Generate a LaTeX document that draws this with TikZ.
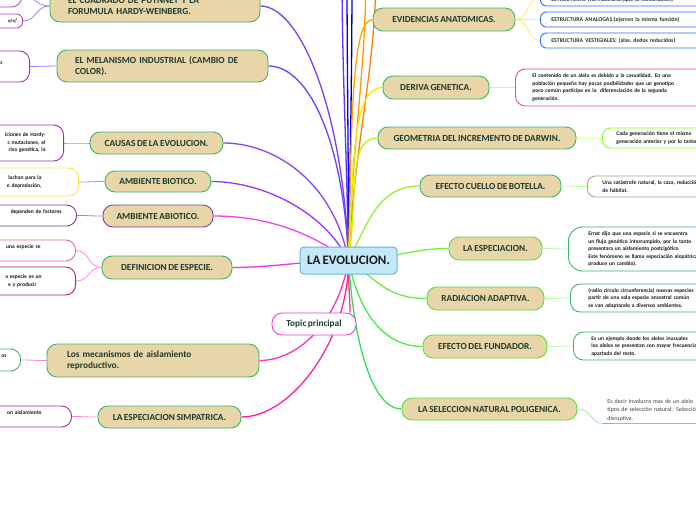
\documentclass[tikz,border=0pt]{standalone}
\usepackage{fontspec}
\setmainfont{Carlito}[WordSpace=0.75]
\pgfdeclarelayer{bg}
\pgfsetlayers{bg,main}
\definecolor{tanfill}{HTML}{E8D5A8}
\definecolor{mgreen}{HTML}{3DB36B}
\definecolor{lgreen}{HTML}{55DD44}
\definecolor{ntext}{HTML}{1E3B2E}
\definecolor{ltext}{HTML}{1A1A1A}
\definecolor{cfill}{HTML}{C5E8F8}
\definecolor{cborder}{HTML}{5BB8E8}
\definecolor{abborder}{HTML}{7F3F98}
\definecolor{topicb}{HTML}{E83CC8}
\definecolor{lfA}{HTML}{B548C6}
\definecolor{lfB}{HTML}{8E3FA8}
\definecolor{lfC}{HTML}{9B2FA0}
\definecolor{lfY}{HTML}{F7E84A}
\definecolor{lfP}{HTML}{D9707F}
\definecolor{lfR}{HTML}{C8203F}
\definecolor{lfBlue}{HTML}{3366FF}
\definecolor{lfDer}{HTML}{D65A6E}
\definecolor{lfLime}{HTML}{88FF22}
\definecolor{lfTan}{HTML}{B5A080}
\definecolor{cCuad}{HTML}{7B3FF2}
\definecolor{cMel}{HTML}{6644FF}
\definecolor{cCau}{HTML}{8844EE}
\definecolor{cBio}{HTML}{9933FF}
\definecolor{cAbi}{HTML}{EE44EE}
\definecolor{cDef}{HTML}{EE33DD}
\definecolor{cTop}{HTML}{FF3399}
\definecolor{cLos}{HTML}{FF33BB}
\definecolor{cSim}{HTML}{FF2299}
\definecolor{cEvi}{HTML}{FFA500}
\definecolor{cDer}{HTML}{EEEE00}
\definecolor{cGeo}{HTML}{CCEE00}
\definecolor{cCue}{HTML}{99EE33}
\definecolor{cEsp}{HTML}{77EE33}
\definecolor{cRad}{HTML}{66EE44}
\definecolor{cFun}{HTML}{44EE44}
\definecolor{cPol}{HTML}{33DD55}
\definecolor{sViol}{HTML}{A080FF}
\definecolor{sPurp}{HTML}{C080FF}
\definecolor{sMag}{HTML}{E060E0}
\definecolor{sPink}{HTML}{FF88EE}
\definecolor{sRose}{HTML}{FF88CC}
\definecolor{sYel}{HTML}{FFEE66}
\definecolor{sYG}{HTML}{EEF070}
\definecolor{sLG}{HTML}{CCFF99}
\definecolor{sLG2}{HTML}{BBFF99}
\definecolor{sG}{HTML}{AAFFAA}
\definecolor{sG2}{HTML}{99EE99}
\begin{document}
\begin{tikzpicture}[x=1pt,y=-1pt,
  mainbox/.style={draw=mgreen, fill=tanfill, line width=0.9pt, rounded corners=10pt,
    font=\bfseries\fontsize{9.3}{11.5}\selectfont, text=ntext, inner sep=0pt, align=center},
  centerbox/.style={draw=cborder, fill=cfill, line width=1pt, rounded corners=4pt,
    font=\bfseries\fontsize{13}{15}\selectfont, text=ltext, inner sep=0pt},
  leafL/.style={fill=white, line width=0.9pt, rounded corners=10pt,
    font=\bfseries\fontsize{5.5}{7.5}\selectfont, text=ltext, anchor=east, align=right, inner ysep=0pt},
  leafR/.style={fill=white, line width=0.9pt, rounded corners=10pt,
    font=\bfseries\fontsize{5.5}{7.5}\selectfont, text=ltext, anchor=west, align=left,
    inner ysep=0pt, text width=260pt},
  evileaf/.style={leafR, draw=lfBlue, rounded corners=6pt, minimum height=15pt,
    font=\bfseries\fontsize{5.8}{7}\selectfont, text=ntext, inner xsep=11pt},
  mainline/.style={line width=1.3pt},
  subline/.style={line width=0.8pt}
]
\useasboundingbox (0,0) rectangle (696,520);
\begin{scope}
\clip (0,0) rectangle (696,520);
% centre
\node[centerbox, minimum width=97pt, minimum height=27pt] (c) at (348.5,260.5) {LA EVOLUCION.};
% left main nodes
\node[mainbox, minimum width=210pt, minimum height=32pt, text width=174pt, align=left] (cuad) at (155,6) {EL CUADRADO DE PUTNNET Y LA\\FORUMULA HARDY-WEINBERG.};
\node[mainbox, minimum width=211pt, minimum height=32pt, text width=175pt, align=left] (mel) at (162.5,66) {EL MELANISMO INDUSTRIAL (CAMBIO DE\\COLOR).};
\node[mainbox, minimum width=133pt, minimum height=22pt] (cau) at (156.5,143) {CAUSAS DE LA EVOLUCION.};
\node[mainbox, minimum width=106pt, minimum height=21pt] (bio) at (158,181.5) {AMBIENTE BIOTICO.};
\node[mainbox, draw=abborder, minimum width=110pt, minimum height=22pt] (abi) at (158,216) {AMBIENTE ABIOTICO.};
\node[mainbox, minimum width=130pt, minimum height=23pt] (def) at (167,267.5) {DEFINICION DE ESPECIE.};
\node[mainbox, draw=topicb, fill=white, text=ntext, minimum width=84pt, minimum height=22pt] (top) at (314,324) {Topic principal};
\node[mainbox, minimum width=212pt, minimum height=33pt, text width=172pt, align=left] (los) at (153,360.5) {Los mecanismos de aislamiento\\reproductivo.};
\node[mainbox, minimum width=143pt, minimum height=22pt] (sim) at (169.5,417) {LA ESPECIACION SIMPATRICA.};
% right main nodes
\node[mainbox, minimum width=142pt, minimum height=23pt] (evi) at (444,19.5) {EVIDENCIAS ANATOMICAS.};
\node[mainbox, minimum width=106pt, minimum height=23pt] (der) at (436,87.5) {DERIVA GENETICA.};
\node[mainbox, minimum width=198pt, minimum height=22pt] (geo) at (477,138) {GEOMETRIA DEL INCREMENTO DE DARWIN.};
\node[mainbox, minimum width=141pt, minimum height=22pt] (cue) at (490.5,186) {EFECTO CUELLO DE BOTELLA.};
\node[mainbox, draw=lgreen, minimum width=93pt, minimum height=23pt] (esp) at (495.5,248.5) {LA ESPECIACION.};
\node[mainbox, draw=lgreen, minimum width=117pt, minimum height=23pt] (rad) at (485.5,298.5) {RADIACION ADAPTIVA.};
\node[mainbox, draw=lgreen, minimum width=124pt, minimum height=23pt] (fun) at (485,346.5) {EFECTO DEL FUNDADOR.};
\node[mainbox, draw=lgreen, minimum width=175pt, minimum height=22pt] (pol) at (489.5,409) {LA SELECCION NATURAL POLIGENICA.};
% left leaves
\node[leafL, draw=lfA, minimum height=22pt, text width=60pt, inner xsep=4pt] (cuadA) at (22,-4) {};
\node[leafL, draw=lfA, rounded corners=6pt, minimum height=14pt, text width=60pt, inner xsep=4pt, font=\bfseries\fontsize{4.8}{6}\selectfont] (cuadB) at (23,21) {q+q².};
\node[leafL, draw=lfB, minimum height=31pt, text width=60pt, inner xsep=27pt] (melA) at (30,66.5) {s\\\mbox{}};
\node[leafL, draw=lfC, minimum height=36pt, text width=130pt, inner xsep=18pt] (cauA) at (64,143) {iciones de Hardy-\\c mutaciones, el\\riva genética, la};
\node[leafL, draw=lfY, minimum height=28pt, text width=130pt, inner xsep=37pt] (bioA) at (79,182) {luchan para la\hspace*{14pt}\\e depredación,};
\node[leafL, draw=abborder, minimum height=21pt, text width=130pt, inner xsep=15pt] (abiA) at (77,215.5) {dependen de factores\\\mbox{}};
\node[leafL, draw=lfP, minimum height=21pt, text width=130pt, inner xsep=35pt] (defA) at (76,250.5) {una especie se\\\mbox{}};
\node[leafL, draw=lfR, minimum height=28pt, text width=130pt, inner xsep=34pt] (defB) at (76,281) {a especie es un\\e y producir\hspace*{5pt}};
\node[leafL, draw=mgreen, minimum height=22pt, text width=60pt, inner xsep=14pt] (losA) at (21,360) {os\\\mbox{}};
\node[leafL, draw=lfC, minimum height=21pt, text width=130pt, inner xsep=30pt] (simA) at (72,416.5) {on aislamiento\\\mbox{}};
% right leaves
\node[evileaf, minimum height=16pt] (eviA) at (540,-2) {\mbox{}\\ESTRUCTURAS HOMOLOGAS:(que al concordaran)};
\node[evileaf] (eviB) at (540,19.5) {ESTRUCTURA ANALOGAS:(ejercen la misma función)};
\node[evileaf] (eviC) at (540,40.5) {ESTRUCTURA VESTIGIALES: (alas, dedos reducidos)};
\node[leafR, draw=lfDer, minimum height=37pt, inner xsep=17pt] (derA) at (515,87.5) {El contenido de un alelo es debido a la casualidad. En una\\población pequeña hay pocas posibilidades que un genotipo\\poco común participe en la\ \ diferenciación de la segunda\\generación.};
\node[leafR, draw=lfLime, rounded corners=8pt, minimum height=20pt, inner xsep=14pt] (geoA) at (602,138) {Cada generación tiene el mismo\\generación anterior y por lo tanto};
\node[leafR, draw=lfTan, rounded corners=8pt, minimum height=21pt, inner xsep=15pt] (cueA) at (587,186.5) {Una catástrofe natural, la caza, reducción\\de hábitat.};
\node[leafR, draw=mgreen, rounded corners=14pt, minimum height=44pt, inner xsep=20pt] (espA) at (568,249) {Ernst dijo que una especie si se encuentra\\un flujo genético interrumpido, por lo tanto\\presentara un aislamiento postcigótico\\Este fenómeno se llama especiación alopátrica\\produce un cambio).};
\node[leafR, draw=mgreen, minimum height=28pt, inner xsep=18pt] (radA) at (570,298) {(radio circulo circunferencia) nuevas especies\\partir de una sola especie ancestral común\\se van adaptando a diversos ambientes.};
\node[leafR, draw=mgreen, minimum height=28pt, inner xsep=18pt] (funA) at (573,346) {Es un ejemplo donde los alelos inusuales\\los alelos se presentan con mayor frecuencia\\apartada del resto.};
\node[leafR, font=\fontsize{6}{8.5}\selectfont, text=black!75, minimum height=26pt, inner xsep=4pt] (polA) at (603,410) {Es decir involucra mas de un alelo\\tipos de selección natural: Selección\\disruptiva.};
\end{scope}
\begin{pgfonlayer}{bg}
\fill[white] (0,0) rectangle (696,520);
\clip (0,0) rectangle (696,520);
\coordinate (o) at (c.center);
\coordinate (up1) at (342,-30);
\coordinate (up2) at (347,-30);
\coordinate (up3) at (352,-30);
\coordinate (up4) at (366,-30);
\coordinate (up5) at (376,-30);
% off-canvas branches
\draw[mainline, color=cCuad!80!blue] (o) .. controls +(-2,-120) and +(0,100) .. (up1);
\draw[mainline, color=blue] (o) .. controls +(0,-120) and +(0,100) .. (up2);
\draw[mainline, color=blue!70!black] (o) .. controls +(2,-120) and +(0,100) .. (up3);
\draw[mainline, color=orange!80!yellow] (o) .. controls +(4,-120) and +(0,100) .. (up4);
\draw[mainline, color=orange] (o) .. controls +(6,-120) and +(0,100) .. (up5);
% main branches left
\draw[mainline, cCuad] (o) .. controls +(-5,-150) and +(40,0) .. (cuad.east);
\draw[mainline, cMel] (o) .. controls +(-5,-120) and +(40,0) .. (mel.east);
\draw[mainline, cCau] (o) .. controls +(-15,-80) and +(50,0) .. (cau.east);
\draw[mainline, cBio] (o) .. controls +(-25,-50) and +(50,0) .. (bio.east);
\draw[mainline, cAbi] (o) .. controls +(-40,-30) and +(50,0) .. (abi.east);
\draw[mainline, cDef] (o) .. controls +(-40,0) and +(40,0) .. (def.east);
\draw[mainline, cTop] (o) .. controls +(0,30) and +(0,-15) .. ([xshift=36pt]top.north);
\draw[mainline, cLos] (o) .. controls +(-10,60) and +(40,0) .. (los.east);
\draw[mainline, cSim] (o) .. controls +(0,80) and +(50,0) .. (sim.east);
% main branches right
\draw[mainline, cEvi] (o) .. controls +(3,-150) and +(-20,0) .. (evi.west);
\draw[mainline, cDer] (o) .. controls +(5,-100) and +(-30,0) .. (der.west);
\draw[mainline, cGeo] (o) .. controls +(10,-70) and +(-30,0) .. (geo.west);
\draw[mainline, cCue] (o) .. controls +(20,-40) and +(-40,0) .. (cue.west);
\draw[mainline, cEsp] (o) .. controls +(40,0) and +(-40,0) .. (esp.west);
\draw[mainline, cRad] (o) .. controls +(30,20) and +(-40,0) .. (rad.west);
\draw[mainline, cFun] (o) .. controls +(10,50) and +(-40,0) .. (fun.west);
\draw[mainline, cPol] (o) .. controls +(5,80) and +(-30,0) .. (pol.west);
% sub branches left
\draw[subline, sViol] (cuad.west) .. controls +(-14,0) and +(14,0) .. (cuadA.east);
\draw[subline, sViol] (cuad.west) .. controls +(-14,0) and +(14,0) .. (cuadB.east);
\draw[subline, sViol] (mel.west) .. controls +(-14,0) and +(14,0) .. (melA.east);
\draw[subline, sPurp] (cau.west) .. controls +(-14,0) and +(14,0) .. (cauA.east);
\draw[subline, sPurp] (bio.west) .. controls +(-14,0) and +(14,0) .. (bioA.east);
\draw[subline, sMag] (abi.west) .. controls +(-14,0) and +(14,0) .. (abiA.east);
\draw[subline, sPink] (def.west) .. controls +(-14,0) and +(14,0) .. (defA.east);
\draw[subline, sPink] (def.west) .. controls +(-14,0) and +(14,0) .. (defB.east);
\draw[subline, sRose] (los.west) .. controls +(-14,0) and +(14,0) .. (losA.east);
\draw[subline, sRose] (sim.west) .. controls +(-14,0) and +(14,0) .. (simA.east);
% sub branches right
\draw[subline, sYel] (evi.east) .. controls +(14,0) and +(-14,0) .. (eviA.west);
\draw[subline, sYel] (evi.east) .. controls +(14,0) and +(-14,0) .. (eviB.west);
\draw[subline, sYel] (evi.east) .. controls +(14,0) and +(-14,0) .. (eviC.west);
\draw[subline, sYG] (der.east) .. controls +(14,0) and +(-14,0) .. (derA.west);
\draw[subline, sLG] (geo.east) .. controls +(14,0) and +(-14,0) .. (geoA.west);
\draw[subline, sLG2] (cue.east) .. controls +(14,0) and +(-14,0) .. (cueA.west);
\draw[subline, sG] (esp.east) .. controls +(14,0) and +(-14,0) .. (espA.west);
\draw[subline, sG] (rad.east) .. controls +(14,0) and +(-14,0) .. (radA.west);
\draw[subline, sG] (fun.east) .. controls +(14,0) and +(-14,0) .. (funA.west);
\draw[subline, sG2] (pol.east) .. controls +(14,0) and +(-12,0) .. (polA.south west);
\draw[line width=1.1pt, cFun] (polA.south west) -- (polA.south east);
\end{pgfonlayer}
\end{tikzpicture}
\end{document}
